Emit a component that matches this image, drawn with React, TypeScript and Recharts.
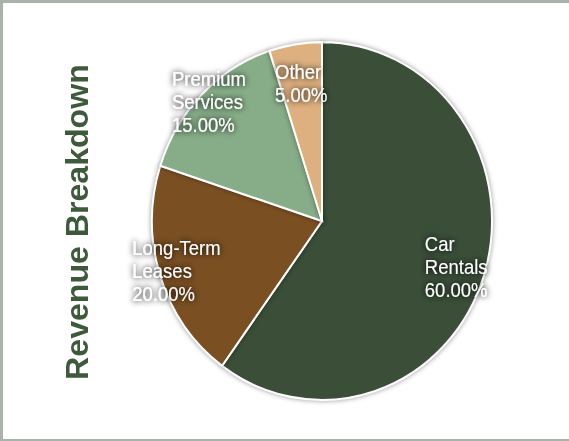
import React from "react";
import { PieChart, Pie, Cell } from "recharts";

const categories = ["Car Rentals", "Long-Term Leases", "Premium Services", "Other"];
const shares = [60, 20, 15, 5];
const colors = ["#3a4e38", "#7a4f22", "#86ad88", "#deb07f"];
const chartTitle = "Revenue Breakdown";

// how far out (share of radius) each label block is centred
const labelRadius = [0.83, 0.9, 0.94, 0.78];

const data = categories.map((name, i) => ({ name, value: shares[i] }));

const RADIAN = Math.PI / 180;
const LABEL_FONT = 18.5;
const LABEL_FAMILY = "'Liberation Sans', Arial, sans-serif";
// the reference picture is a little taller than wide
const STRETCH = 1.0525;

let ctx: CanvasRenderingContext2D | null = null;
const textWidth = (s: string) => {
    if (!ctx) ctx = document.createElement("canvas").getContext("2d");
    if (!ctx) return s.length * 9.5;
    ctx.font = `${LABEL_FONT}px ${LABEL_FAMILY}`;
    return ctx.measureText(s).width;
};

const renderLabel = (props: any) => {
    const { cx, cy, midAngle, outerRadius, name, percent, index } = props;
    const r = outerRadius * (labelRadius[index] ?? 0.88);
    const x = cx + r * Math.cos(-midAngle * RADIAN);
    const y = cy + r * Math.sin(-midAngle * RADIAN);
    const lines = [...String(name).split(" "), (percent * 100).toFixed(2) + "%"];
    const w = Math.max(...lines.map(textWidth));
    const left = x - w / 2;
    const lineH = 22;
    const top = y - ((lines.length - 1) * lineH) / 2;
    return (
        <text
            x={left}
            y={top}
            fill="#ffffff"
            fontSize={LABEL_FONT}
            fontFamily={LABEL_FAMILY}
            filter="url(#labelShadow)"
            dominantBaseline="central"
        >
            {lines.map((l, i) => (
                <tspan key={i} x={left} y={top + i * lineH}>{l}</tspan>
            ))}
        </text>
    );
};

export default function App() {
    return (
        <div style={{ position: "absolute", left: 0, top: 0, width: 569, height: 441, background: "#fff", overflow: "hidden" }}>
            <style>{`.recharts-pie-sector path { filter: drop-shadow(0 0 2.5px rgba(0,0,0,0.4)); }`}</style>
            <svg width={0} height={0} style={{ position: "absolute" }}>
                <defs>
                    <filter id="labelShadow" x="-30%" y="-30%" width="160%" height="160%">
                        <feGaussianBlur in="SourceAlpha" stdDeviation="3.2" result="blur" />
                        <feComponentTransfer in="blur" result="dark">
                            <feFuncA type="linear" slope="1.8" />
                        </feComponentTransfer>
                        <feFlood floodColor="#000" floodOpacity="0.6" />
                        <feComposite in2="dark" operator="in" result="shadow" />
                        <feMerge>
                            <feMergeNode in="shadow" />
                            <feMergeNode in="SourceGraphic" />
                        </feMerge>
                    </filter>
                </defs>
            </svg>
            <div
                style={{
                    position: "absolute", left: 0, top: 0, width: 569, height: 419,
                    transform: `scaleY(${STRETCH})`, transformOrigin: "0 0",
                }}
            >
                <div style={{ position: "absolute", left: 0, top: 0 }}>
                    <PieChart width={569} height={419} margin={{ top: 0, right: 0, bottom: 0, left: 0 }}>
                        <Pie
                            data={data}
                            dataKey="value"
                            nameKey="name"
                            cx={322}
                            cy={210}
                            outerRadius={170}
                            startAngle={90}
                            endAngle={-270}
                            stroke="#ffffff"
                            strokeWidth={2}
                            label={renderLabel}
                            labelLine={false}
                            isAnimationActive={false}
                        >
                            {data.map((d, i) => (
                                <Cell key={d.name} fill={colors[i]} />
                            ))}
                        </Pie>
                    </PieChart>
                </div>
                <svg width={569} height={419} style={{ position: "absolute", left: 0, top: 0, pointerEvents: "none" }}>
                    <text
                        x={78}
                        y={211}
                        transform="rotate(-90 78 211)"
                        textAnchor="middle"
                        dominantBaseline="central"
                        fill="#3d5a3b"
                        fontSize={30.5}
                        fontWeight="bold"
                        fontFamily="'Liberation Sans', Arial, sans-serif"
                    >
                        {chartTitle}
                    </text>
                </svg>
            </div>
            <div
                style={{
                    position: "absolute", left: 0, top: 0, width: 566, height: 436,
                    borderTop: "3px solid #a9b3a9", borderLeft: "3px solid #a9b3a9", borderBottom: "2px solid #a9b3a9",
                }}
            />
        </div>
    );
}
